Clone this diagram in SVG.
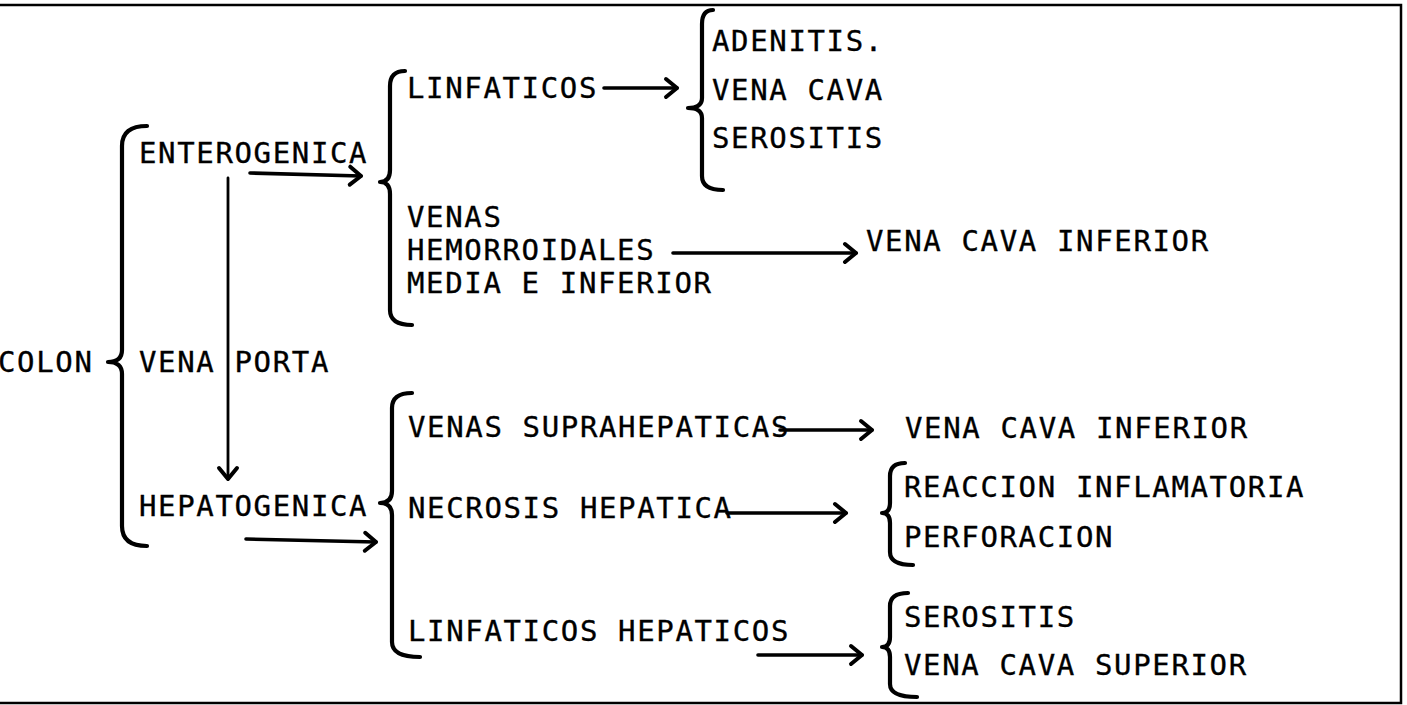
<svg xmlns="http://www.w3.org/2000/svg" width="1407" height="705" viewBox="0 0 1407 705">
<style>
  text { font-family: "DejaVu Sans Mono", "Liberation Mono", monospace; font-size: 29px; letter-spacing: 1.64px; fill: #000; stroke: #000; stroke-width: 0.35px; }
  .brace { fill: none; stroke: #000; stroke-width: 4.2; stroke-linecap: round; stroke-linejoin: round; }
  .arrow { fill: none; stroke: #000; stroke-width: 3.6; stroke-linecap: round; marker-end: url(#head); }
  .thin { stroke-width: 2.8; }
  .frame { fill: none; stroke: #000; stroke-width: 2.5; }
</style>
<defs>
  <marker id="head" markerUnits="userSpaceOnUse" viewBox="-14 -12 18 24" refX="0" refY="0" markerWidth="18" markerHeight="24" orient="auto" overflow="visible">
    <path d="M -11 -9 L 0 0 L -11 9" fill="none" stroke="#000" stroke-width="4" stroke-linecap="round" stroke-linejoin="round"/>
  </marker>
</defs>
<rect width="1407" height="705" fill="#fff"/>
<g id="frame">
  <path class="frame" d="M 0 5 L 1401 5 L 1401 703 L 0 703"/>
</g>
<g id="braces">
  <path id="brace-colon" class="brace" d="M 147 126 Q 122 126 122 146 L 122 350 Q 122 362 108 362 Q 122 362 122 374 L 122 526 Q 122 546 147 546"/>
  <path id="brace-enterogenica" class="brace" d="M 405 71 Q 390 71 390 86 L 390 170 Q 390 182 380 182 Q 390 182 390 194 L 390 310 Q 390 325 412 325"/>
  <path id="brace-linfaticos" class="brace" d="M 713 10 Q 702 10 702 24 L 702 98 Q 702 108 688 108 Q 702 108 702 118 L 702 176 Q 702 190 723 190"/>
  <path id="brace-hepatogenica" class="brace" d="M 412 393 Q 392 393 392 408 L 392 491 Q 392 503 380 503 Q 392 503 392 515 L 392 642 Q 392 657 420 657"/>
  <path id="brace-necrosis" class="brace" d="M 905 463 Q 890 463 890 476 L 890 503 Q 890 513 882 513 Q 890 513 890 523 L 890 552 Q 890 565 913 565"/>
  <path id="brace-linf-hep" class="brace" d="M 908 593 Q 890 593 890 606 L 890 637 Q 890 647 882 647 Q 890 647 890 657 L 890 684 Q 890 697 917 697"/>
</g>
<g id="connectors">
  <path class="arrow" d="M 604 88 L 677 88"/>
  <path class="arrow" d="M 673 253 L 856 253"/>
  <path class="arrow" d="M 250 173 L 361 176"/>
  <path class="arrow thin" d="M 228 178 L 228 479"/>
  <path class="arrow" d="M 246 539 L 376 542"/>
  <path class="arrow" d="M 780 430 L 872 430"/>
  <path class="arrow" d="M 727 513 L 846 513"/>
  <path class="arrow" d="M 758 655 L 862 655"/>
</g>
<g id="node-colon"><text x="-2" y="372">COLON</text></g>
<g id="node-enterogenica"><text x="139" y="163">ENTEROGENICA</text></g>
<g id="node-vena-porta"><text x="139" y="372">VENA PORTA</text></g>
<g id="node-hepatogenica"><text x="139" y="516">HEPATOGENICA</text></g>
<g id="node-linfaticos"><text x="407" y="98">LINFATICOS</text></g>
<g id="node-venas-hemorroidales">
  <text x="407" y="227">VENAS</text>
  <text x="407" y="260">HEMORROIDALES</text>
  <text x="407" y="293">MEDIA E INFERIOR</text>
</g>
<g id="node-linfaticos-results">
  <text x="712" y="51">ADENITIS.</text>
  <text x="712" y="100">VENA CAVA</text>
  <text x="712" y="148">SEROSITIS</text>
</g>
<g id="node-vci-1"><text x="866" y="251">VENA CAVA INFERIOR</text></g>
<g id="node-suprahepaticas"><text x="408" y="437">VENAS SUPRAHEPATICAS</text></g>
<g id="node-necrosis"><text x="408" y="518">NECROSIS HEPATICA</text></g>
<g id="node-linfaticos-hepaticos"><text x="408" y="641">LINFATICOS HEPATICOS</text></g>
<g id="node-vci-2"><text x="905" y="438">VENA CAVA INFERIOR</text></g>
<g id="node-necrosis-results">
  <text x="904" y="497">REACCION INFLAMATORIA</text>
  <text x="904" y="547">PERFORACION</text>
</g>
<g id="node-linf-hep-results">
  <text x="904" y="627">SEROSITIS</text>
  <text x="904" y="675">VENA CAVA SUPERIOR</text>
</g>
</svg>
